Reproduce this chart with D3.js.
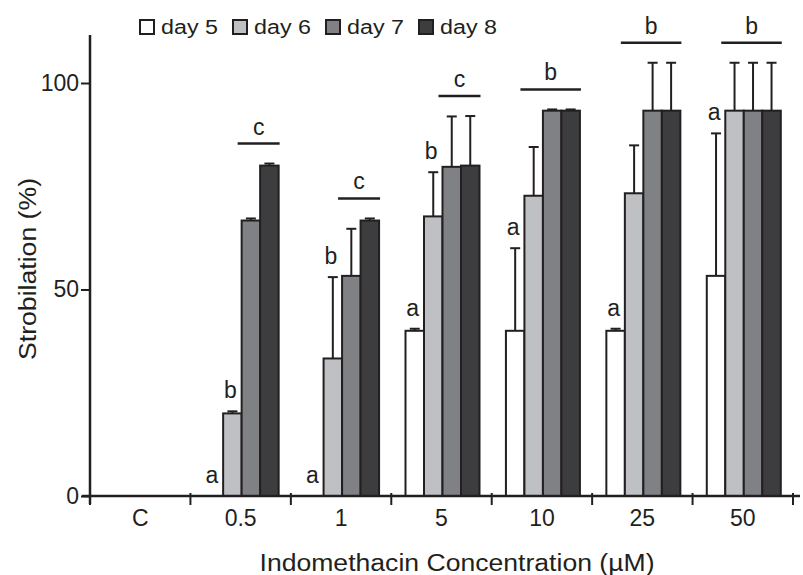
<!DOCTYPE html>
<html>
<head>
<meta charset="utf-8">
<script src="https://cdn.jsdelivr.net/npm/d3@7"></script>
<style>
  body { margin: 0; background: #fff; }
  text { font-family: "Liberation Sans", Arial, Helvetica, sans-serif; fill: #231f20; }
</style>
</head>
<body>
<div id="chart"></div>
<script>
// data
const categories = ["C", "0.5", "1", "5", "10", "25", "50"];
const seriesNames = ["day 5", "day 6", "day 7", "day 8"];
const day5 = [0, 0, 0, 40, 40, 40, 53.3];
const day6 = [0, 20, 33.3, 67.7, 72.7, 73.3, 93.3];
const day7 = [0, 66.7, 53.3, 79.7, 93.3, 93.3, 93.3];
const day8 = [0, 80, 66.7, 80, 93.3, 93.3, 93.3];
const err5 = [0, 0, 0, 0.5, 20, 0.5, 34.5];
const err6 = [0, 0.5, 19.7, 10.7, 11.8, 11.6, 11.6];
const err7 = [0, 0.5, 11.4, 12.2, 0.3, 11.6, 11.6];
const err8 = [0, 0.5, 0.5, 12, 0.3, 11.6, 11.6];
const yTicks = [0, 50, 100];
// significance letters
const lettersDay5 = [null, "a", "a", "a", "a", "a", "a"];
const lettersDay6 = [null, "b", "b", "b", null, null, null];
const groupLetters = [null, "c", "c", "c", "b", "b", "b"];
const groupFrom = [null, 2, 2, 2, 1, 1, 1]; // first series index under the bar line

const values = [day5, day6, day7, day8];
const errors = [err5, err6, err7, err8];
const colors = ["#ffffff", "#bfc0c4", "#808185", "#3d3d3f"];
const ink = "#231f20";

const width = 803, height = 575;
const left = 90, right = 793, base = 496, top100 = 83;

const svg = d3.select("#chart").append("svg")
  .attr("width", width)
  .attr("height", height);

const x0 = d3.scaleBand()
  .domain(categories)
  .range([left, right]);

const groupW = 74;
const offset = (x0.bandwidth() - groupW) / 2 + 1;
const x1 = d3.scaleBand()
  .domain(seriesNames)
  .range([0, groupW]);

const y = d3.scaleLinear()
  .domain([0, 100])
  .range([base, top100]);

const color = d3.scaleOrdinal()
  .domain(seriesNames)
  .range(colors);

const rows = categories.map((c, i) => ({
  cat: c,
  i,
  bars: seriesNames.map((s, k) => ({ s, k, v: values[k][i], e: errors[k][i] }))
}));

const groups = svg.selectAll(".grp")
  .data(rows)
  .join("g")
  .attr("class", "grp")
  .attr("transform", d => `translate(${x0(d.cat) + offset},0)`);

// bars
groups.selectAll("rect")
  .data(d => d.bars)
  .join("rect")
  .attr("x", d => x1(d.s))
  .attr("y", d => y(d.v))
  .attr("width", x1.bandwidth())
  .attr("height", d => base - y(d.v))
  .attr("fill", d => color(d.s))
  .attr("stroke", ink)
  .attr("stroke-width", 2);

// error bars (upper only)
const eb = groups.selectAll(".err")
  .data(d => d.bars.filter(b => b.e > 0))
  .join("g")
  .attr("class", "err")
  .attr("stroke", ink)
  .attr("stroke-width", 2);

eb.append("line")
  .attr("x1", d => x1(d.s) + x1.bandwidth() / 2)
  .attr("x2", d => x1(d.s) + x1.bandwidth() / 2)
  .attr("y1", d => y(d.v))
  .attr("y2", d => y(d.v + d.e));

eb.append("line")
  .attr("x1", d => x1(d.s) + x1.bandwidth() / 2 - 5)
  .attr("x2", d => x1(d.s) + x1.bandwidth() / 2 + 5)
  .attr("y1", d => y(d.v + d.e))
  .attr("y2", d => y(d.v + d.e));

// letters over single bars
const single = [];
rows.forEach(r => {
  if (lettersDay5[r.i]) single.push({ r, b: r.bars[0], t: lettersDay5[r.i] });
  if (lettersDay6[r.i]) single.push({ r, b: r.bars[1], t: lettersDay6[r.i] });
});

svg.selectAll(".lbl")
  .data(single)
  .join("text")
  .attr("class", "lbl")
  .attr("x", d => x0(d.r.cat) + offset + x1(d.b.s) + x1.bandwidth() / 2 - 2)
  .attr("y", d => y(d.b.v + d.b.e) - 13)
  .attr("text-anchor", "middle")
  .style("font-size", "23px")
  .text(d => d.t);

// bar lines over grouped bars
const brackets = rows.filter(r => groupLetters[r.i]).map(r => {
  const sub = r.bars.slice(groupFrom[r.i]);
  const topY = d3.min(sub, b => y(b.v + b.e));
  const gx = x0(r.cat) + offset;
  return {
    x1: gx + x1(sub[0].s) - 4,
    x2: gx + x1(sub[sub.length - 1].s) + x1.bandwidth() + 1,
    y: topY - 20,
    t: groupLetters[r.i]
  };
});

const br = svg.selectAll(".br")
  .data(brackets)
  .join("g")
  .attr("class", "br");

br.append("line")
  .attr("x1", d => d.x1)
  .attr("x2", d => d.x2)
  .attr("y1", d => d.y)
  .attr("y2", d => d.y)
  .attr("stroke", ink)
  .attr("stroke-width", 2.5);

br.append("text")
  .attr("x", d => (d.x1 + d.x2) / 2)
  .attr("y", d => d.y - 9)
  .attr("text-anchor", "middle")
  .style("font-size", "23px")
  .text(d => d.t);

// x axis
const xAxis = svg.append("g")
  .attr("transform", `translate(0,${base})`)
  .call(d3.axisBottom(x0).tickSize(0).tickPadding(14));
xAxis.select(".domain").remove();
xAxis.selectAll("text")
  .style("font-size", "23px")
  .style("font-family", null)
  .attr("fill", ink);

svg.append("line")
  .attr("x1", left - 8).attr("x2", right + 7)
  .attr("y1", base).attr("y2", base)
  .attr("stroke", ink).attr("stroke-width", 2.5);

svg.selectAll(".xtick")
  .data(categories.map(c => x0(c)).concat([x0(categories[categories.length - 1]) + x0.bandwidth()]))
  .join("line")
  .attr("class", "xtick")
  .attr("x1", d => d).attr("x2", d => d)
  .attr("y1", base - 3).attr("y2", base + 9)
  .attr("stroke", ink).attr("stroke-width", 2);

// y axis
const yAxis = svg.append("g")
  .attr("transform", `translate(${left},0)`)
  .call(d3.axisLeft(y).tickValues(yTicks).tickSize(9).tickPadding(2).tickSizeOuter(0));
yAxis.select(".domain").remove();
yAxis.selectAll(".tick line").attr("stroke", ink).attr("stroke-width", 2);
yAxis.selectAll("text")
  .style("font-size", "23px")
  .style("font-family", null)
  .attr("fill", ink);

svg.append("line")
  .attr("x1", left).attr("x2", left)
  .attr("y1", 35).attr("y2", base + 8)
  .attr("stroke", ink).attr("stroke-width", 2.5);

// axis titles
svg.append("text")
  .attr("x", 457)
  .attr("y", 571)
  .attr("text-anchor", "middle")
  .attr("textLength", 395)
  .attr("lengthAdjust", "spacingAndGlyphs")
  .style("font-size", "23px")
  .text("Indomethacin Concentration (µM)");

svg.append("text")
  .attr("transform", "rotate(-90)")
  .attr("x", -269)
  .attr("y", 36)
  .attr("text-anchor", "middle")
  .attr("textLength", 182)
  .attr("lengthAdjust", "spacingAndGlyphs")
  .style("font-size", "23px")
  .text("Strobilation (%)");

// legend
const legend = svg.append("g")
  .attr("transform", "translate(140,20)");

seriesNames.forEach((s, i) => {
  const g = legend.append("g")
    .attr("transform", `translate(${i * 93},0)`);
  g.append("rect")
    .attr("width", 14)
    .attr("height", 14)
    .attr("fill", color(s))
    .attr("stroke", ink)
    .attr("stroke-width", 2);
  g.append("text")
    .attr("x", 21)
    .attr("y", 13.5)
    .attr("textLength", 57)
    .attr("lengthAdjust", "spacingAndGlyphs")
    .style("font-size", "20px")
    .text(s);
});
</script>
</body>
</html>
